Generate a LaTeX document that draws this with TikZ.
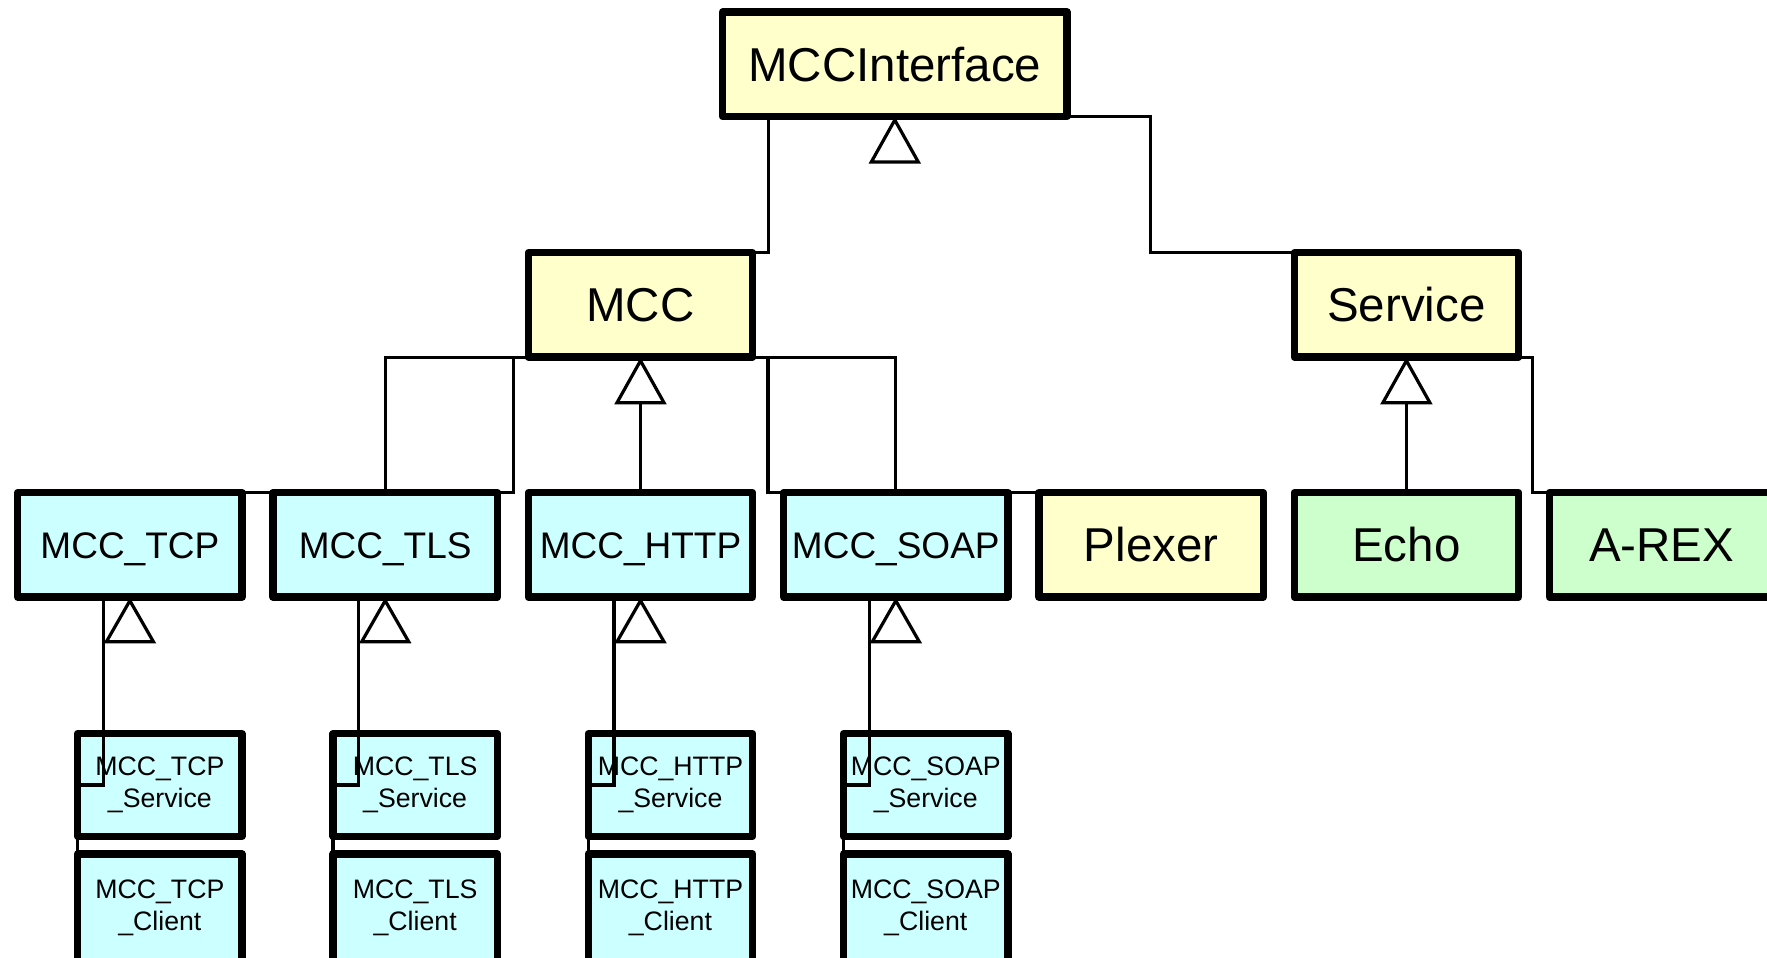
\documentclass[tikz,border=0pt]{standalone}
\usepackage{fontspec}
\setmainfont{Liberation Sans}
\usetikzlibrary{calc}
\definecolor{boxyellow}{HTML}{FFFFCC}
\definecolor{boxcyan}{HTML}{CCFFFF}
\definecolor{boxgreen}{HTML}{CCFFCC}
\begin{document}
\begin{tikzpicture}[x=0.5pt,y=-0.5pt,
  cls/.style={draw=black, line width=3.65pt, line join=round, inner sep=0pt, outer sep=0pt,
    minimum width=112.2pt, minimum height=52.2pt},
  bigtext/.style={font=\fontsize{23.75pt}{28pt}\selectfont, text height=17pt, text depth=0pt},
  midtext/.style={font=\fontsize{18.5pt}{22pt}\selectfont, text height=13.25pt, text depth=0pt},
  subcls/.style={cls, minimum width=82.2pt, minimum height=51.35pt, align=center,
    font=\fontsize{13.35pt}{16.3pt}\selectfont},
  yel/.style={fill=boxyellow},
  cyn/.style={fill=boxcyan},
  grn/.style={fill=boxgreen},
  conn/.style={draw=black, line width=1.6pt},
  tri/.style={draw=black, fill=white, line width=1.6pt}
]
\useasboundingbox (0,0) rectangle (1767,958);

% level 0 and 1
\node[cls,yel,bigtext,minimum width=172.2pt] (MCCI) at (894.8,64.2) {MCCInterface};
\node[cls,yel,bigtext] (MCC) at (640.5,304.9) {MCC};
\node[cls,yel,bigtext] (Service) at (1406.4,304.9) {Service};

% level 2
\node[cls,cyn,midtext] (TCP)  at (129.9,544.9) {MCC\_TCP};
\node[cls,cyn,midtext] (TLS)  at (385.2,544.9) {MCC\_TLS};
\node[cls,cyn,midtext] (HTTP) at (640.5,544.9) {MCC\_HTTP};
\node[cls,cyn,midtext] (SOAP) at (895.8,544.9) {MCC\_SOAP};
\node[cls,yel,bigtext] (Plexer) at (1151.1,544.9) {Plexer};
\node[cls,grn,bigtext] (Echo) at (1406.4,544.9) {Echo};
\node[cls,grn,bigtext] (AREX) at (1661.7,544.9) {A-REX};

% level 3
\node[subcls,cyn] (TCPs)  at (159.85,785) {MCC\_TCP\\\_Service};
\node[subcls,cyn] (TLSs)  at (415.15,785) {MCC\_TLS\\\_Service};
\node[subcls,cyn] (HTTPs) at (670.45,785) {MCC\_HTTP\\\_Service};
\node[subcls,cyn] (SOAPs) at (925.75,785) {MCC\_SOAP\\\_Service};
\node[subcls,cyn,minimum height=54pt] (TCPc)  at (159.85,908) {MCC\_TCP\\\_Client};
\node[subcls,cyn,minimum height=54pt] (TLSc)  at (415.15,908) {MCC\_TLS\\\_Client};
\node[subcls,cyn,minimum height=54pt] (HTTPc) at (670.45,908) {MCC\_HTTP\\\_Client};
\node[subcls,cyn,minimum height=54pt] (SOAPc) at (925.75,908) {MCC\_SOAP\\\_Client};

% connectors from MCCInterface
\draw[conn] (MCCI.south west) ++(45.7,0) |- (MCC.north east);
\draw[conn] (MCCI.south east) -- ++(83.6,0) |- (Service.north west);
\draw[tri] ($(MCCI.south)+(0,3.6)$) -- ++(23.5,42) -- ++(-47,0) -- cycle;

% connectors from MCC
\draw[conn] (MCC.south west) -| (TLS.north);
\draw[conn] (MCC.south west) -- ++(-14.9,0) |- (TCP.north east);
\draw[conn] (MCC.south east) -| (SOAP.north);
\draw[conn] (MCC.south east) -- ++(15.2,0) |- (Plexer.north west);
\draw[conn] ($(MCC.south)+(0,45.6)$) -- (HTTP.north);
\draw[tri] ($(MCC.south)+(0,3.6)$) -- ++(23.5,42) -- ++(-47,0) -- cycle;

% connectors from Service
\draw[conn] ($(Service.south)+(0,45.6)$) -- (Echo.north);
\draw[tri] ($(Service.south)+(0,3.6)$) -- ++(23.5,42) -- ++(-47,0) -- cycle;
\draw[conn] (Service.south east) -- ++(13.7,0) |- (AREX.north west);

% connectors from level 2 to level 3
\foreach \p/\s/\c in {TCP/TCPs/TCPc, TLS/TLSs/TLSc, HTTP/HTTPs/HTTPc, SOAP/SOAPs/SOAPc}{
  \draw[conn] (\p.south west) ++(85.6,0) |- (\s.west) -- (\c.north west);
  \draw[tri] ($(\p.south)+(0,3.6)$) -- ++(23.5,41) -- ++(-47,0) -- cycle;
}
\end{tikzpicture}
\end{document}
